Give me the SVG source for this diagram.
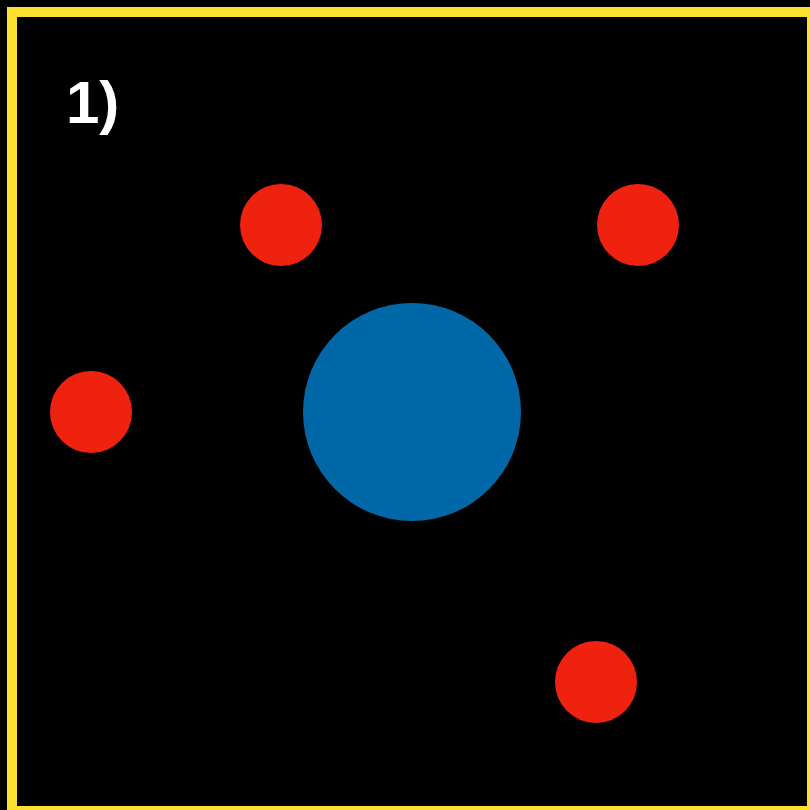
<svg xmlns="http://www.w3.org/2000/svg" width="810" height="810" viewBox="0 0 810 810">
<style>
.red{fill:#EE220F}
.blue{fill:#0068A6}
.lbl{font-family:"Liberation Sans",Arial,sans-serif;font-weight:bold;fill:#FFFFFF}
</style>
<rect x="0" y="0" width="810" height="810" fill="#000000"/>
<rect x="12" y="12" width="800" height="799" fill="#000000" stroke="#FDE02F" stroke-width="10"/>
<text class="lbl" x="66" y="123" font-size="60">1)</text>
<g id="center"><circle class="blue" cx="412" cy="412" r="109"/></g>
<g id="p1"><circle class="red" cx="281" cy="225" r="41"/></g>
<g id="p2"><circle class="red" cx="638" cy="225" r="41"/></g>
<g id="p3"><circle class="red" cx="91" cy="412" r="41"/></g>
<g id="p4"><circle class="red" cx="596" cy="682" r="41"/></g>
<g id="connectors"></g>
</svg>
